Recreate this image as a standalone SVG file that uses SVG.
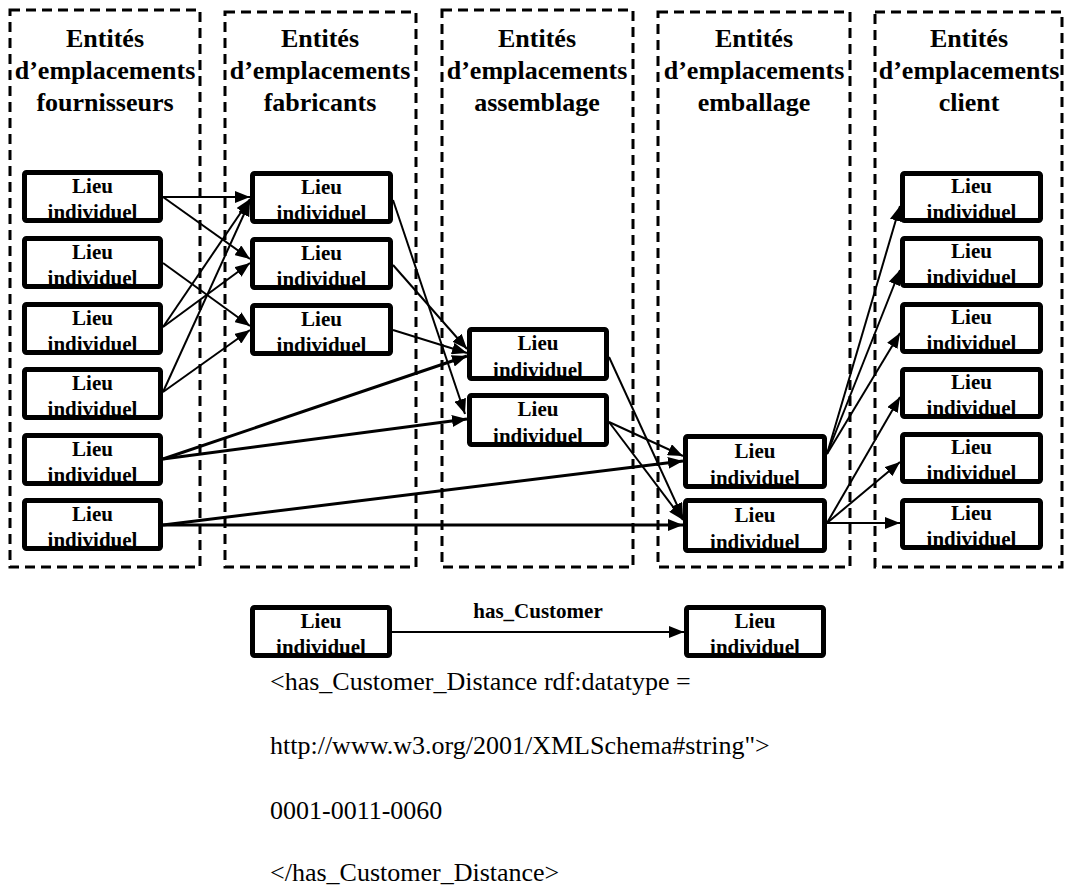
<svg xmlns="http://www.w3.org/2000/svg" width="1065" height="888" viewBox="0 0 1065 888">
<style>
.cont{fill:none;stroke:#000;stroke-width:3;stroke-dasharray:10 6}
.title{font-family:"Liberation Serif","Times New Roman",serif;font-weight:bold;font-size:26px;text-anchor:middle;fill:#000}
.node rect{fill:#fff;stroke:#000;stroke-width:5}
.node text{font-family:"Liberation Serif","Times New Roman",serif;font-weight:bold;font-size:21px;text-anchor:middle;fill:#000}
.e{stroke:#000;stroke-width:2;fill:none;marker-end:url(#ah)}
.t{stroke-width:3}
.lbl{font-family:"Liberation Serif","Times New Roman",serif;font-weight:bold;font-size:21px;text-anchor:middle}
.code{font-family:"Liberation Serif","Times New Roman",serif;font-size:26px}
</style>
<defs>
<marker id="ah" markerUnits="userSpaceOnUse" markerWidth="16" markerHeight="12" refX="15" refY="6" orient="auto">
<path d="M0,0 L15,6 L0,12 z" fill="#000"/>
</marker>
</defs>
<rect width="1065" height="888" fill="#fff"/>
<g id="containers">
<g id="c-fournisseurs"><rect class="cont" x="10" y="10" width="190" height="557"/>
<text class="title" x="105" y="47">Entités</text><text class="title" x="105" y="79">d’emplacements</text><text class="title" x="105" y="111">fournisseurs</text></g>
<g id="c-fabricants"><rect class="cont" x="225" y="12" width="191" height="555"/>
<text class="title" x="320" y="47">Entités</text><text class="title" x="320" y="79">d’emplacements</text><text class="title" x="320" y="111">fabricants</text></g>
<g id="c-assemblage"><rect class="cont" x="442" y="10" width="191" height="557"/>
<text class="title" x="537" y="47">Entités</text><text class="title" x="537" y="79">d’emplacements</text><text class="title" x="537" y="111">assemblage</text></g>
<g id="c-emballage"><rect class="cont" x="658" y="12" width="192" height="555"/>
<text class="title" x="754" y="47">Entités</text><text class="title" x="754" y="79">d’emplacements</text><text class="title" x="754" y="111">emballage</text></g>
<g id="c-client"><rect class="cont" x="875" y="12" width="187" height="555"/>
<text class="title" x="969" y="47">Entités</text><text class="title" x="969" y="79">d’emplacements</text><text class="title" x="969" y="111">client</text></g>
</g>
<g id="connectors">
<line class="e" x1="163" y1="197" x2="250" y2="197"/>
<line class="e" x1="163" y1="197" x2="250" y2="259"/>
<line class="e" x1="163" y1="263" x2="250" y2="326"/>
<line class="e" x1="163" y1="327" x2="250" y2="199"/>
<line class="e" x1="163" y1="327" x2="250" y2="263"/>
<line class="e" x1="163" y1="392" x2="250" y2="201"/>
<line class="e" x1="163" y1="392" x2="250" y2="330"/>
<line class="e t" x1="163" y1="459" x2="467" y2="356"/>
<line class="e t" x1="163" y1="459" x2="467" y2="419"/>
<line class="e t" x1="163" y1="525" x2="683" y2="461"/>
<line class="e t" x1="163" y1="525" x2="683" y2="525"/>
<line class="e" x1="393" y1="200" x2="465" y2="414"/>
<line class="e" x1="393" y1="265" x2="467" y2="349"/>
<line class="e" x1="393" y1="330" x2="467" y2="353"/>
<line class="e" x1="609" y1="357" x2="683" y2="518"/>
<line class="e" x1="609" y1="422" x2="683" y2="456"/>
<line class="e" x1="609" y1="422" x2="683" y2="520"/>
<line class="e" x1="827" y1="454" x2="900" y2="206"/>
<line class="e" x1="827" y1="454" x2="900" y2="270"/>
<line class="e" x1="827" y1="454" x2="900" y2="333"/>
<line class="e" x1="827" y1="523" x2="900" y2="397"/>
<line class="e" x1="827" y1="523" x2="900" y2="462"/>
<line class="e" x1="827" y1="523" x2="900" y2="523"/>
<line class="e" x1="392" y1="632" x2="684" y2="632"/>
</g>
<g id="s1" class="node"><rect x="24.5" y="172.5" width="136" height="48" rx="2"/><text x="92.5" y="193">Lieu</text><text x="92.5" y="219">individuel</text></g>
<g id="s2" class="node"><rect x="24.5" y="238.5" width="136" height="48" rx="2"/><text x="92.5" y="259">Lieu</text><text x="92.5" y="285">individuel</text></g>
<g id="s3" class="node"><rect x="24.5" y="304.5" width="136" height="48" rx="2"/><text x="92.5" y="325">Lieu</text><text x="92.5" y="351">individuel</text></g>
<g id="s4" class="node"><rect x="24.5" y="369.5" width="136" height="48" rx="2"/><text x="92.5" y="390">Lieu</text><text x="92.5" y="416">individuel</text></g>
<g id="s5" class="node"><rect x="24.5" y="435.5" width="136" height="48" rx="2"/><text x="92.5" y="456">Lieu</text><text x="92.5" y="482">individuel</text></g>
<g id="s6" class="node"><rect x="24.5" y="500.5" width="136" height="48" rx="2"/><text x="92.5" y="521">Lieu</text><text x="92.5" y="547">individuel</text></g>
<g id="f1" class="node"><rect x="252.5" y="173.5" width="138" height="48" rx="2"/><text x="321.5" y="194">Lieu</text><text x="321.5" y="220">individuel</text></g>
<g id="f2" class="node"><rect x="252.5" y="239.5" width="138" height="48" rx="2"/><text x="321.5" y="260">Lieu</text><text x="321.5" y="286">individuel</text></g>
<g id="f3" class="node"><rect x="252.5" y="305.5" width="138" height="48" rx="2"/><text x="321.5" y="326">Lieu</text><text x="321.5" y="352">individuel</text></g>
<g id="a1" class="node"><rect x="469.5" y="329.5" width="137" height="49" rx="2"/><text x="538" y="350">Lieu</text><text x="538" y="377">individuel</text></g>
<g id="a2" class="node"><rect x="469.5" y="395.5" width="137" height="49" rx="2"/><text x="538" y="416">Lieu</text><text x="538" y="443">individuel</text></g>
<g id="e1" class="node"><rect x="685.5" y="436.5" width="139" height="50" rx="2"/><text x="755" y="458">Lieu</text><text x="755" y="485">individuel</text></g>
<g id="e2" class="node"><rect x="685.5" y="500.5" width="139" height="50" rx="2"/><text x="755" y="522">Lieu</text><text x="755" y="549">individuel</text></g>
<g id="k1" class="node"><rect x="902.5" y="173.5" width="138" height="47" rx="2"/><text x="971.5" y="193">Lieu</text><text x="971.5" y="219">individuel</text></g>
<g id="k2" class="node"><rect x="902.5" y="238.5" width="138" height="47" rx="2"/><text x="971.5" y="258">Lieu</text><text x="971.5" y="284">individuel</text></g>
<g id="k3" class="node"><rect x="902.5" y="304.5" width="138" height="47" rx="2"/><text x="971.5" y="324">Lieu</text><text x="971.5" y="350">individuel</text></g>
<g id="k4" class="node"><rect x="902.5" y="369.5" width="138" height="47" rx="2"/><text x="971.5" y="389">Lieu</text><text x="971.5" y="415">individuel</text></g>
<g id="k5" class="node"><rect x="902.5" y="434.5" width="138" height="47" rx="2"/><text x="971.5" y="454">Lieu</text><text x="971.5" y="480">individuel</text></g>
<g id="k6" class="node"><rect x="902.5" y="500.5" width="138" height="47" rx="2"/><text x="971.5" y="520">Lieu</text><text x="971.5" y="546">individuel</text></g>
<g id="b1" class="node"><rect x="252.5" y="607.5" width="137" height="48" rx="2"/><text x="321" y="628">Lieu</text><text x="321" y="654">individuel</text></g>
<g id="b2" class="node"><rect x="686.5" y="607.5" width="137" height="48" rx="2"/><text x="755" y="628">Lieu</text><text x="755" y="654">individuel</text></g>
<text class="lbl" x="538" y="618">has_Customer</text>
<g id="code">
<text class="code" x="270" y="690">&lt;has_Customer_Distance rdf:datatype =</text>
<text class="code" x="270" y="754">http://www.w3.org/2001/XMLSchema#string"&gt;</text>
<text class="code" x="270" y="819">0001-0011-0060</text>
<text class="code" x="270" y="881">&lt;/has_Customer_Distance&gt;</text>
</g>
</svg>
